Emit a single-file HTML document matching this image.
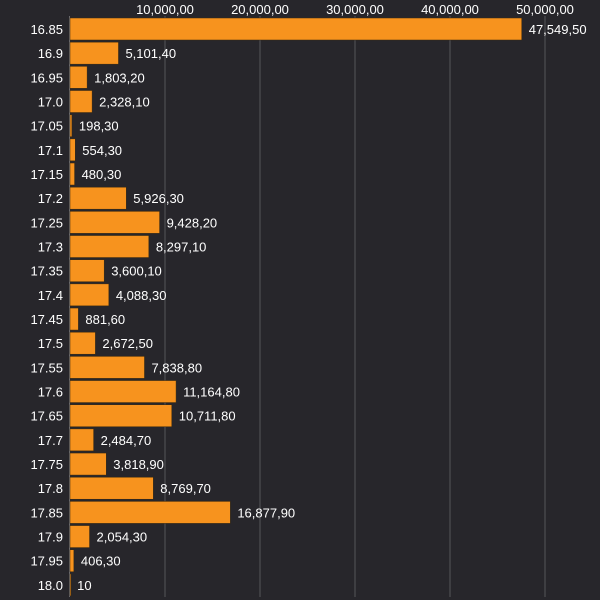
<!DOCTYPE html>
<html><head><meta charset="utf-8"><style>
html,body{margin:0;padding:0;background:#27262b;}
svg{display:block;font-family:"Liberation Sans",sans-serif;}
</style></head><body>
<svg id="chart" width="600" height="600">
<rect width="600" height="600" fill="#27262b"/>
<g id="grid"></g><g id="bars"></g><g id="labels"></g>
</svg>
<script>
const categories=["16.85","16.9","16.95","17.0","17.05","17.1","17.15","17.2","17.25","17.3","17.35","17.4","17.45","17.5","17.55","17.6","17.65","17.7","17.75","17.8","17.85","17.9","17.95","18.0"];
const values=[47549.5,5101.4,1803.2,2328.1,198.3,554.3,480.3,5926.3,9428.2,8297.1,3600.1,4088.3,881.6,2672.5,7838.8,11164.8,10711.8,2484.7,3818.9,8769.7,16877.9,2054.3,406.3,10];
const valueLabels=["47,549,50","5,101,40","1,803,20","2,328,10","198,30","554,30","480,30","5,926,30","9,428,20","8,297,10","3,600,10","4,088,30","881,60","2,672,50","7,838,80","11,164,80","10,711,80","2,484,70","3,818,90","8,769,70","16,877,90","2,054,30","406,30","10"];
const ticks=[10000,20000,30000,40000,50000];
const tickLabels=["10,000,00","20,000,00","30,000,00","40,000,00","50,000,00"];
const NS="http://www.w3.org/2000/svg";
const x=v=>70+v*0.0095;
const y=i=>18+i*24.17;
const bh=22;
function mk(t,a,p){const e=document.createElementNS(NS,t);for(const k in a)e.setAttribute(k,a[k]);p.appendChild(e);return e;}
const grid=document.getElementById('grid'),bars=document.getElementById('bars'),labels=document.getElementById('labels');
const ax=mk('line',{x1:69.5,x2:69.5,y1:16,y2:597,stroke:'#6a6a6e','stroke-width':1},grid);


ticks.forEach((t,i)=>{
 const l=mk('line',{x1:x(t),x2:x(t),y1:16,y2:597,stroke:'#55555a','stroke-width':1},grid);
 
 
 const tx=mk('text',{x:x(t),y:14,fill:'#fff','font-size':13,'text-anchor':'middle'},labels);
 tx.textContent=tickLabels[i];
 
 
});
categories.forEach((c,i)=>{
 const r=mk('rect',{x:70,y:y(i),width:Math.max(x(values[i])-70,1),height:bh,fill:'#f7931e',stroke:'#3a2a10','stroke-width':0.5},bars);
 
 
 const cl=mk('text',{x:63,y:y(i)+bh/2+5,fill:'#fff','font-size':13,'text-anchor':'end'},labels);
 cl.textContent=c;
 
 
 const vl=mk('text',{x:x(values[i])+7,y:y(i)+bh/2+5,fill:'#fff','font-size':13},labels);
 vl.textContent=valueLabels[i];
 
 
});
</script>
</body></html>
